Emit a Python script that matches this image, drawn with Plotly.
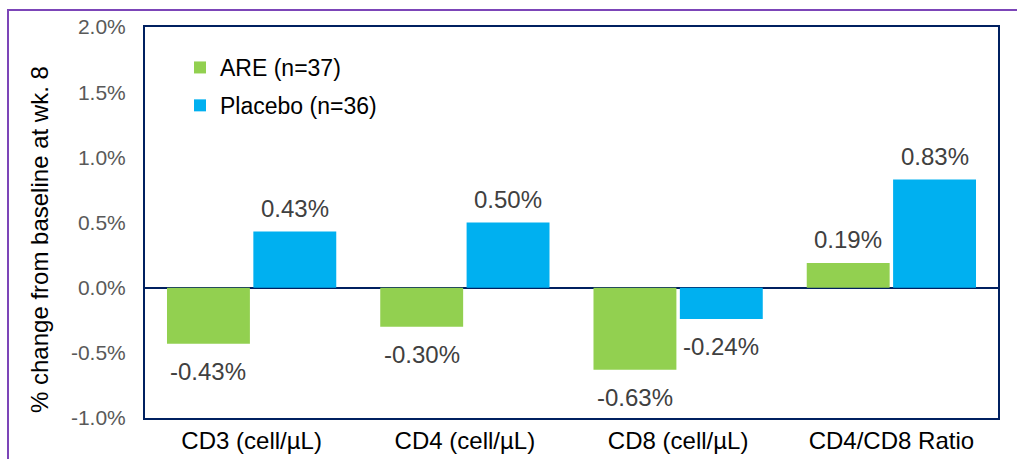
import plotly.graph_objects as go

categories = ["CD3 (cell/µL)", "CD4 (cell/µL)", "CD8 (cell/µL)", "CD4/CD8 Ratio"]
are_values = [-0.43, -0.30, -0.63, 0.19]
placebo_values = [0.43, 0.50, -0.24, 0.83]
series_names = ["ARE (n=37)", "Placebo (n=36)"]
series_colors = ["#92D050", "#00B0F0"]
y_tickvals = [-1.0, -0.5, 0.0, 0.5, 1.0, 1.5, 2.0]
y_ticktext = ["-1.0%", "-0.5%", "0.0%", "0.5%", "1.0%", "1.5%", "2.0%"]

FONT = "Arial, Liberation Sans, sans-serif"
W, H = 1017, 459
ML, MR, MT, MB = 145, 19, 27, 41
plot_w = W - ML - MR
plot_h = H - MT - MB
bargap = 0.19
slot_px = (1 - bargap) * plot_w / len(categories) / 2

fig = go.Figure()
all_values = [are_values, placebo_values]
for i, (name, vals, col) in enumerate(zip(series_names, all_values, series_colors)):
    fig.add_trace(go.Bar(
        x=categories, y=vals, name=name,
        marker=dict(color=col, line=dict(width=0)),
        legendgroup=f"g{i}",
    ))
    for cat, v in zip(categories, vals):
        fig.add_annotation(
            x=cat, y=v, xref="x", yref="y",
            text=f"{v:.2f}%", showarrow=False,
            xshift=(-1 if i == 0 else 1) * slot_px / 2,
            yshift=23 if v >= 0 else -28,
            yanchor="middle", xanchor="center",
            font=dict(family=FONT, size=24, color="#404040"),
        )

# y-axis title
fig.add_annotation(
    x=(40 - ML) / plot_w, y=(H - MB - 240) / plot_h,
    xref="paper", yref="paper", text="% change from baseline at wk. 8",
    textangle=-90, showarrow=False, xanchor="center", yanchor="middle",
    font=dict(family=FONT, size=24, color="#000000"),
)

# purple outer frame
fig.add_shape(
    type="rect", xref="paper", yref="paper",
    x0=(8 - ML) / plot_w, x1=1.2,
    y0=-0.3, y1=(H - MB - 10) / plot_h,
    line=dict(color="#7C45B8", width=2), layer="below",
)

fig.update_layout(
    width=W, height=H,
    margin=dict(l=ML, r=MR, t=MT, b=MB, autoexpand=False),
    paper_bgcolor="white", plot_bgcolor="white",
    barmode="group", bargap=bargap, bargroupgap=0.04,
    showlegend=True,
    legend=dict(
        x=(180 - ML) / plot_w, y=(H - MB - 46) / plot_h,
        xanchor="left", yanchor="top",
        bgcolor="rgba(0,0,0,0)", tracegroupgap=5,
        font=dict(family=FONT, size=23, color="#000000"),
        traceorder="grouped",
    ),
    font=dict(family=FONT),
)
fig.update_xaxes(
    automargin=False,
    showline=True, mirror=True, linecolor="#002060", linewidth=2,
    showgrid=False, ticks="", ticklabelstandoff=0,
    tickfont=dict(family=FONT, size=24, color="#000000"),
)
fig.update_yaxes(
    automargin=False,
    range=[-1.0, 2.0], tickvals=y_tickvals, ticktext=y_ticktext,
    showline=True, mirror=True, linecolor="#002060", linewidth=2,
    showgrid=False, zeroline=True, zerolinecolor="#002060", zerolinewidth=2,
    ticks="", ticklabelstandoff=13,
    tickfont=dict(family=FONT, size=21, color="#595959"),
)

fig.write_html(
    "out.html",
    config={"displayModeBar": False},
    post_script="document.body.style.margin='0';document.body.style.overflow='hidden';",
)
